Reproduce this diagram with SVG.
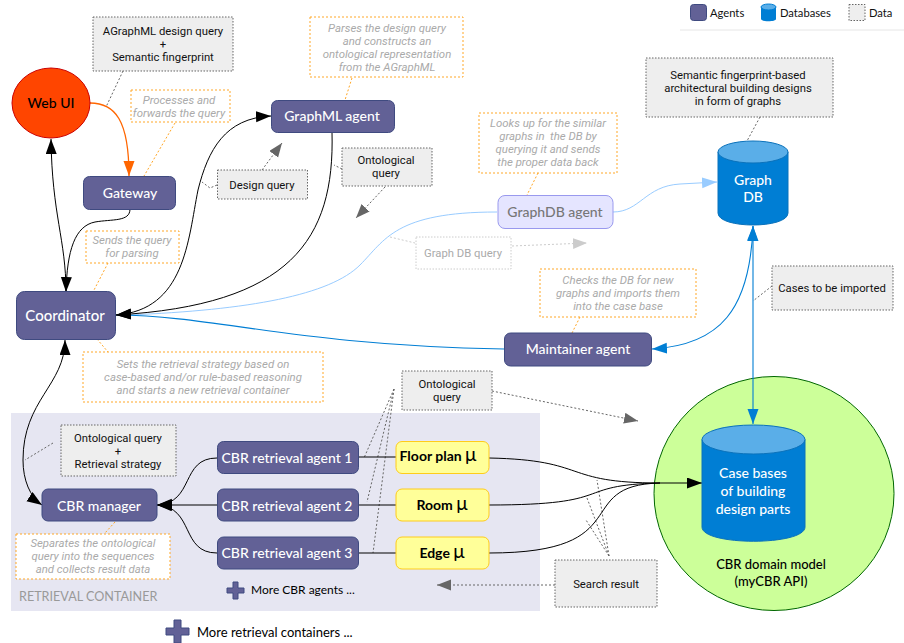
<svg xmlns="http://www.w3.org/2000/svg" width="904" height="643" viewBox="0 0 904 643">
<defs>
<marker id="ab" markerUnits="userSpaceOnUse" markerWidth="16" markerHeight="12" refX="15" refY="5.5" orient="auto-start-reverse"><path d="M0 0L15 5.5L0 11z" fill="#000"/></marker>
<marker id="ao" markerUnits="userSpaceOnUse" markerWidth="16" markerHeight="12" refX="15" refY="5.5" orient="auto"><path d="M0 0L15 5.5L0 11z" fill="#ff6600"/></marker>
<marker id="al" markerUnits="userSpaceOnUse" markerWidth="16" markerHeight="12" refX="15" refY="5.5" orient="auto"><path d="M0 0L15 5.5L0 11z" fill="#99ccff"/></marker>
<marker id="ad" markerUnits="userSpaceOnUse" markerWidth="16" markerHeight="12" refX="15" refY="5.5" orient="auto-start-reverse"><path d="M0 0L15 5.5L0 11z" fill="#007ed4"/></marker>
<marker id="ag" markerUnits="userSpaceOnUse" markerWidth="16" markerHeight="12" refX="14" refY="5.5" orient="auto"><path d="M0 0L14 5.5L0 11z" fill="#666"/></marker>
<marker id="ac" markerUnits="userSpaceOnUse" markerWidth="16" markerHeight="12" refX="14" refY="5.5" orient="auto"><path d="M0 0L14 5.5L0 11z" fill="#ccc"/></marker>
</defs>
<style>
.a{fill:#626196;stroke:#3f4a80;stroke-width:1}
.at{fill:#fff;font:500 14px "Lato","Open Sans",sans-serif;text-anchor:middle}
.m{fill:#ffff99;stroke:#ffcc1a;stroke-width:1}
.mt{fill:#000;font:700 14px "Lato",sans-serif;text-anchor:middle}
.mu{font-size:19px;font-weight:400}
.d{fill:#eee;stroke:#666;stroke-dasharray:1.5 1.5}
.dt{fill:#111;font:11.3px "Roboto",sans-serif;text-anchor:middle}
.n{fill:#fff;stroke:#ffa726;stroke-dasharray:2 2}
.nt{fill:#aaa;font:italic 11.4px "Roboto",sans-serif;text-anchor:middle}
.c{fill:none;stroke:#000;stroke-width:1}
.o{stroke:#ff6600;stroke-width:1.3}
.lb{stroke:#99ccff;stroke-width:1}
.db{stroke:#007ed4;stroke-width:1.1}
.dl{fill:none;stroke:#666;stroke-dasharray:2 2}
.gl{fill:none;stroke:#ccc;stroke-dasharray:2 2}
.ol{fill:none;stroke:#ffa726;stroke-dasharray:2 2}
.lg{fill:#111;font:11.2px "Lato",sans-serif}
.dm{font:500 13px "Lato",sans-serif;text-anchor:middle;fill:#000}
</style>
<rect x="11" y="413" width="529" height="198" fill="#e6e6f2"/>
<text x="19" y="601" fill="#999" font-family="Lato,sans-serif" font-size="12.6">RETRIEVAL CONTAINER</text>
<g id="domain"><ellipse cx="774" cy="493.5" rx="120" ry="117" fill="#ccff99" stroke="#006600"/>
<text x="771" y="569" class="dm">CBR domain model</text><text x="771" y="586" class="dm">(myCBR API)</text></g>
<g id="connectors">
<path class="dl" d="M123 71L106 107M217 185L210 188L202 182M342 169L334 165M760 117L747 141M772 286L753 301M53 443L25 460"/>
<path class="dl" d="M394 389L364 458M394 389L367 502M394 389L373 553M609 556L597 480M609 556L587 498M609 556L586 520"/>
<path class="dl" d="M262 170L282 143" marker-end="url(#ag)"/>
<path class="dl" d="M385 187L356 218" marker-end="url(#ag)"/>
<path class="dl" d="M492 391L638 421" marker-end="url(#ag)"/>
<path class="dl" d="M555 585L437 585" marker-end="url(#ag)"/>
<path class="gl" d="M390 237L415 243"/>
<path class="gl" d="M512 246L587 243" marker-end="url(#ac)"/>
<path class="ol" d="M175 123L144 176M352 78L345 100M538 173L527 195M108 263L93 292M580 317L572 333M97 339L108 352M115 522L105 533"/>
<path class="c o" d="M90 103C115 103 129 120 129 176" marker-end="url(#ao)"/>
<path class="c" d="M66 292C66 240 52 215 51 139" marker-end="url(#ab)"/>
<path class="c" d="M130 209C130 222 112 219 95 222C75 226 67 250 66 292" marker-end="url(#ab)"/>
<path class="c lb" d="M128 315C250 310 330 295 360 265C385 240 395 212 497 212"/>
<path class="c lb" d="M613 212C640 212 645 186 680 184L717 182" marker-end="url(#al)"/>
<path class="c db" d="M116 315C220 316 290 345 504 349"/>
<path class="c" d="M271 116C225 118 208 150 198 190C188 240 185 310 116 315" marker-start="url(#ab)" marker-end="url(#ab)"/>
<path class="c" d="M332 132C335 240 290 305 116 315" marker-end="url(#ab)"/>
<path class="c db" d="M753 226C750 310 720 345 652 349" marker-start="url(#ad)" marker-end="url(#ad)"/>
<path class="c db" d="M753 226V424" marker-start="url(#ad)" marker-end="url(#ad)"/>
<path class="c" d="M65 340C65 385 23 400 23 460C23 480 30 497 42 505" marker-start="url(#ab)" marker-end="url(#ab)"/>
<path class="c" d="M217 458C180 458 195 503 157 505" marker-end="url(#ab)"/>
<path class="c" d="M217 505H157" marker-end="url(#ab)"/>
<path class="c" d="M217 553C180 553 195 507 157 505" marker-end="url(#ab)"/>
<path class="c" d="M358 457H396M358 505H396M358 553H396"/>
<path class="c" d="M489 458C590 460 560 483 660 483H702" marker-end="url(#ab)"/>
<path class="c" d="M489 505C620 505 570 485 660 483"/>
<path class="c" d="M489 553C640 553 570 485 660 483"/>
</g>
<g id="legend">
<rect x="690.500" y="4.500" width="16" height="16" rx="3" class="a"/>
<text x="710" y="17" class="lg">Agents</text>
<path d="M761 7v12c0 3 15 3 15 0v-12z" fill="#007ed4"/><ellipse cx="768.500" cy="7" rx="7.500" ry="3" fill="#5aaee8" stroke="#007ed4"/>
<text x="780" y="17" class="lg">Databases</text>
<rect x="849" y="4.500" width="16" height="16" class="d"/>
<text x="869" y="17" class="lg">Data</text>
<path d="M680 30H904" stroke="#e6e6e6" fill="none"/>
</g>
<g id="webui"><ellipse cx="51" cy="103" rx="39" ry="35" fill="#ff4500" stroke="#cc0000"/><text x="51" y="108" class="at" style="fill:#000">Web UI</text></g>
<g id="gateway"><rect x="83.500" y="176.500" width="92" height="33" rx="6" class="a"/><text x="130" y="198" class="at">Gateway</text></g>
<g id="graphml"><rect x="271.500" y="100.500" width="123" height="32" rx="6" class="a"/><text x="332" y="121" class="at">GraphML agent</text></g>
<g id="coordinator"><rect x="16.500" y="291.500" width="99" height="48" rx="8" class="a"/><text x="65" y="321" class="at" style="font-size:15px">Coordinator</text></g>
<g id="graphdbagent"><rect x="498" y="195.500" width="115" height="33" rx="7" fill="#e5e5ff" stroke="#9999ee"/><text x="555" y="217" class="at" style="fill:#777">GraphDB agent</text></g>
<g id="maintainer"><rect x="504.500" y="333" width="147" height="33" rx="6" class="a"/><text x="578" y="354" class="at">Maintainer agent</text></g>
<g id="manager"><rect x="42" y="489" width="115" height="32" rx="6" class="a"/><text x="99" y="511" class="at">CBR manager</text></g>
<g id="r1"><rect x="217.500" y="441.500" width="141" height="32" rx="6" class="a"/><text x="287" y="463" class="at">CBR retrieval agent 1</text></g>
<g id="r2"><rect x="217.500" y="489" width="141" height="32" rx="6" class="a"/><text x="287" y="511" class="at">CBR retrieval agent 2</text></g>
<g id="r3"><rect x="217.500" y="537" width="141" height="32" rx="6" class="a"/><text x="287" y="558" class="at">CBR retrieval agent 3</text></g>
<g id="m1"><rect x="396" y="441.500" width="93" height="32" rx="6" class="m"/><text x="438" y="461" class="mt">Floor plan <tspan class="mu">μ</tspan></text></g>
<g id="m2"><rect x="396" y="489" width="93" height="32" rx="6" class="m"/><text x="442" y="510" class="mt">Room <tspan class="mu">μ</tspan></text></g>
<g id="m3"><rect x="396" y="537" width="93" height="32" rx="6" class="m"/><text x="442" y="558" class="mt">Edge <tspan class="mu">μ</tspan></text></g>
<g id="casebases"><path d="M702 439.500V527c0 19 103 19 103 0V439.500z" fill="#007ed4" stroke="#0b72bb"/><ellipse cx="753.500" cy="439.500" rx="51.500" ry="14.500" fill="#5aaee8" stroke="#0b72bb"/>
<text x="753" y="478" class="at">Case bases</text><text x="753" y="496" class="at">of building</text><text x="753" y="514" class="at">design parts</text></g>
<g id="graphdb"><path d="M718 152V213c0 16 70 16 70 0V152z" fill="#007ed4" stroke="#0b72bb"/><ellipse cx="753" cy="152" rx="35" ry="11" fill="#5aaee8" stroke="#0b72bb"/><text x="753" y="185" class="at">Graph</text><text x="753" y="202" class="at">DB</text></g>
<g id="d1"><rect x="93" y="17" width="140" height="54" class="d"/><text x="163" y="35" class="dt">AGraphML design query</text><text x="163" y="48" class="dt">+</text><text x="163" y="61" class="dt">Semantic fingerprint</text></g>
<g id="d2"><rect x="217.500" y="170" width="90" height="29" class="d"/><text x="262" y="189" class="dt">Design query</text></g>
<g id="d3"><rect x="342" y="148" width="90" height="38" class="d"/><text x="386" y="164" class="dt">Ontological</text><text x="386" y="177" class="dt">query</text></g>
<g id="d4"><rect x="646" y="58" width="187" height="59" class="d"/><text x="738" y="79" class="dt">Semantic fingerprint-based</text><text x="738" y="92" class="dt">architectural building designs</text><text x="738" y="105" class="dt">in form of graphs</text></g>
<g id="d5"><rect x="416" y="237" width="95" height="32" fill="#fff" stroke="#ccc" stroke-dasharray="1.500 1.500"/><text x="463" y="257" class="dt" style="fill:#aaa">Graph DB query</text></g>
<g id="d6"><rect x="772" y="266" width="121" height="44" class="d"/><text x="832" y="292" class="dt">Cases to be imported</text></g>
<g id="d7"><rect x="402" y="371" width="90" height="39" class="d"/><text x="447" y="388" class="dt">Ontological</text><text x="447" y="401" class="dt">query</text></g>
<g id="d8"><rect x="61" y="425" width="115" height="51" class="d"/><text x="118" y="442" class="dt">Ontological query</text><text x="118" y="455" class="dt">+</text><text x="118" y="468" class="dt">Retrieval strategy</text></g>
<g id="d9"><rect x="555" y="560" width="102" height="47" class="d"/><text x="606" y="588" class="dt">Search result</text></g>
<g id="n1"><rect x="131" y="90" width="99" height="32" class="n"/><text x="179" y="104" class="nt">Processes and</text><text x="179" y="117" class="nt">forwards the query</text></g>
<g id="n2"><rect x="310" y="17" width="153" height="60" class="n"/><text x="387" y="32" class="nt">Parses the design query</text><text x="387" y="45" class="nt">and constructs an</text><text x="387" y="58" class="nt">ontological representation</text><text x="387" y="71" class="nt">from the AGraphML</text></g>
<g id="n3"><rect x="479" y="113" width="138" height="60" class="n"/><text x="548" y="127" class="nt">Looks up for the similar</text><text x="548" y="140" class="nt" xml:space="preserve">graphs in  the DB by</text><text x="548" y="153" class="nt">querying it and sends</text><text x="548" y="166" class="nt">the proper data back</text></g>
<g id="n4"><rect x="86" y="231" width="93" height="32" class="n"/><text x="132" y="244" class="nt">Sends the query</text><text x="132" y="257" class="nt">for parsing</text></g>
<g id="n5"><rect x="540" y="269" width="156" height="48" class="n"/><text x="618" y="284" class="nt">Checks the DB for new</text><text x="618" y="297" class="nt">graphs and imports them</text><text x="618" y="310" class="nt">into the case base</text></g>
<g id="n6"><rect x="83" y="352" width="240" height="50" class="n"/><text x="203" y="368" class="nt">Sets the retrieval strategy based on</text><text x="203" y="381" class="nt">case-based and/or rule-based reasoning</text><text x="203" y="394" class="nt">and starts a new retrieval container</text></g>
<g id="n7"><rect x="16" y="534" width="154" height="45" class="n"/><text x="93" y="547" class="nt">Separates the ontological</text><text x="93" y="560" class="nt">query into the sequences</text><text x="93" y="573" class="nt">and collects result data</text></g>
<g id="more1"><path d="M233 582h5v6h6v5h-6v6h-5v-6h-6v-5h6z" fill="#626196" stroke="#3f4a80"/><text x="251" y="594" font-family="Lato,sans-serif" font-size="12">More CBR agents ...</text></g>
<g id="more2"><path d="M174 620h7v8h8v7h-8v8h-7v-8h-8v-7h8z" fill="#626196" stroke="#3f4a80"/><text x="197" y="637" font-family="Lato,sans-serif" font-size="13">More retrieval containers ...</text></g>
</svg>
